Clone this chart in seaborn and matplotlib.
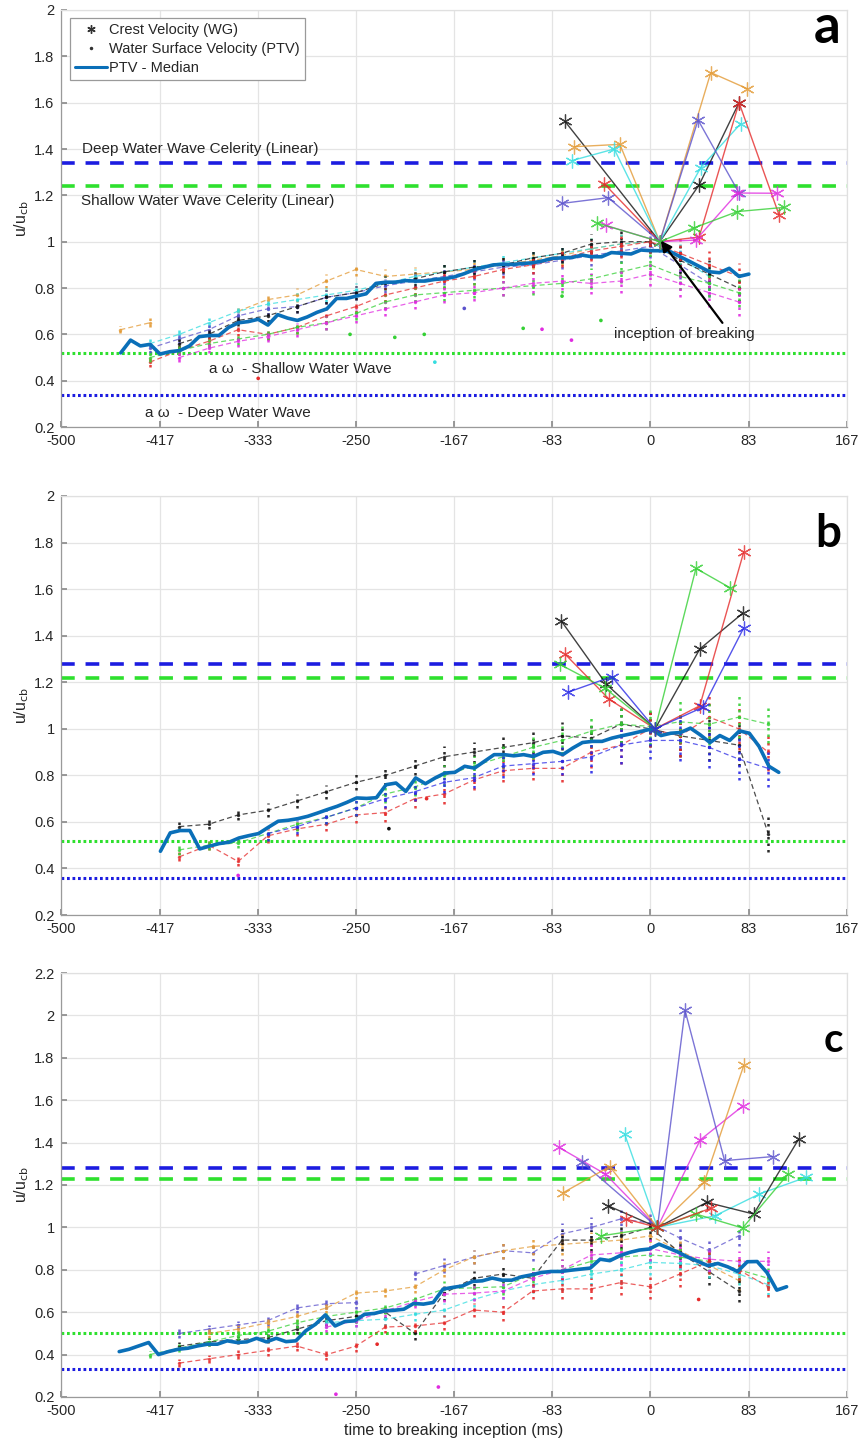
import numpy as np
import pandas as pd
import matplotlib
matplotlib.use("Agg")
import matplotlib.pyplot as plt
from matplotlib.lines import Line2D
import seaborn as sns

FRAME = 1000 / 120  # ms between camera frames

# ── PTV median, one value per frame ──────────────────────────────────────────
med_a_start = -449.7
med_a = [0.52, 0.575, 0.55, 0.557, 0.515, 0.525, 0.53, 0.55, 0.59, 0.595,
         0.595, 0.63, 0.65, 0.655, 0.665, 0.64, 0.685, 0.67, 0.66, 0.675,
         0.695, 0.71, 0.755, 0.755, 0.765, 0.775, 0.82, 0.825, 0.825, 0.832,
         0.83, 0.83, 0.837, 0.84, 0.848, 0.862, 0.879, 0.89, 0.90, 0.902,
         0.902, 0.906, 0.909, 0.917, 0.928, 0.93, 0.932, 0.942, 0.935, 0.935,
         0.953, 0.95, 0.947, 0.964, 0.961, 0.961, 0.957, 0.935, 0.914, 0.892,
         0.87, 0.866, 0.885, 0.85, 0.86]
med_b_start = -416.0
med_b = [0.474, 0.553, 0.563, 0.563, 0.484, 0.496, 0.507, 0.513, 0.531, 0.541,
         0.55, 0.577, 0.603, 0.607, 0.614, 0.624, 0.638, 0.653, 0.667, 0.684,
         0.703, 0.701, 0.704, 0.76, 0.767, 0.731, 0.789, 0.764, 0.789, 0.81,
         0.813, 0.839, 0.831, 0.86, 0.889, 0.889, 0.884, 0.889, 0.881, 0.899,
         0.903, 0.889, 0.917, 0.941, 0.946, 0.946, 0.96, 0.97, 0.979, 0.989,
         0.999, 0.971, 0.981, 0.984, 1.003, 0.974, 0.941, 0.971, 0.95, 0.991,
         0.981, 0.924, 0.839, 0.813]
med_c_start = -451.0
med_c = [0.414, 0.425, 0.441, 0.457, 0.40, 0.414, 0.425, 0.43, 0.441, 0.449,
         0.449, 0.465, 0.457, 0.46, 0.477, 0.46, 0.477, 0.461, 0.465, 0.512,
         0.543, 0.587, 0.535, 0.556, 0.559, 0.59, 0.594, 0.606, 0.609, 0.614,
         0.641, 0.638, 0.646, 0.709, 0.717, 0.724, 0.745, 0.748, 0.761, 0.751,
         0.751, 0.767, 0.776, 0.787, 0.792, 0.792, 0.798, 0.803, 0.808, 0.85,
         0.843, 0.866, 0.882, 0.893, 0.898, 0.921, 0.902, 0.882, 0.858, 0.839,
         0.819, 0.83, 0.814, 0.792, 0.838, 0.839, 0.787, 0.704, 0.72]

# ── per-trial PTV (water surface velocity), every 25 ms ─────────────────────
nan = np.nan
grid_a = [-450, -425, -400, -375, -350, -325, -300, -275, -250, -225, -200,
          -175, -150, -125, -100, -75, -50, -25, 0, 25, 50, 75]
trials_a = {
    "orange":  [0.62, 0.65, nan, nan, 0.70, 0.75, 0.77, 0.83, 0.88, 0.85, 0.86,
                0.87, 0.88, 0.90, 0.92, 0.94, 0.97, 0.99, 1.00, nan, nan, nan],
    "cyan":    [nan, 0.56, 0.60, 0.65, 0.70, 0.73, 0.75, 0.77, 0.79, 0.82, 0.85,
                0.87, 0.89, 0.91, 0.93, 0.95, 0.97, 0.99, 1.00, 0.93, 0.85, nan],
    "slate":   [nan, 0.54, 0.58, 0.62, 0.68, 0.71, 0.72, 0.76, 0.78, 0.81, 0.83,
                0.85, 0.87, 0.89, 0.90, 0.92, 0.94, 0.96, 0.98, 0.90, 0.82, nan],
    "black":   [nan, nan, 0.56, 0.60, 0.66, 0.68, 0.72, 0.76, 0.78, 0.82, 0.84,
                0.87, 0.89, 0.90, 0.93, 0.95, 0.99, 1.00, 1.00, 0.92, 0.86, 0.80],
    "red":     [nan, 0.48, 0.53, 0.57, 0.62, 0.60, 0.63, 0.68, 0.72, 0.77, 0.80,
                0.83, 0.85, 0.88, 0.90, 0.93, 0.96, 0.98, 1.00, 0.95, 0.90, 0.85],
    "green":   [nan, 0.50, 0.53, 0.56, 0.58, 0.60, 0.63, 0.65, 0.69, 0.74, 0.77,
                0.78, 0.79, 0.80, 0.81, 0.82, 0.84, 0.87, 0.90, 0.85, 0.82, 0.78],
    "magenta": [nan, nan, 0.50, 0.54, 0.57, 0.59, 0.62, 0.65, 0.68, 0.71, 0.74,
                0.77, 0.78, 0.80, 0.82, 0.83, 0.82, 0.83, 0.86, 0.82, 0.78, 0.74],
}
spread_a = [0.015, 0.02, 0.02, 0.02, 0.025, 0.025, 0.03, 0.03, 0.03, 0.03, 0.03,
            0.035, 0.035, 0.035, 0.04, 0.04, 0.045, 0.05, 0.05, 0.06, 0.06, 0.06]

grid_b = [-425, -400, -375, -350, -325, -300, -275, -250, -225, -200, -175,
          -150, -125, -100, -75, -50, -25, 0, 25, 50, 75, 100]
trials_b = {
    "black": [nan, 0.58, 0.59, 0.63, 0.65, 0.69, 0.73, 0.77, 0.80, 0.84, 0.88,
              0.90, 0.92, 0.94, 0.97, 0.96, 1.02, 1.00, 0.97, 0.95, 0.93, 0.55],
    "red":   [nan, 0.45, 0.50, 0.43, 0.54, 0.57, 0.59, 0.63, 0.64, 0.70, 0.72,
              0.78, 0.82, 0.83, 0.83, 0.90, 0.93, 1.00, 0.97, 1.05, 1.00, 0.90],
    "green": [nan, 0.48, 0.50, 0.51, 0.55, 0.59, 0.62, 0.66, 0.72, 0.75, 0.80,
              0.84, 0.88, 0.92, 0.95, 0.99, 1.02, 1.01, 1.03, 1.02, 1.05, 1.02],
    "blue":  [nan, nan, nan, nan, 0.55, 0.58, 0.62, 0.66, 0.70, 0.73, 0.77,
              0.79, 0.84, 0.85, 0.86, 0.88, 0.93, 0.95, 0.95, 0.92, 0.87, 0.83],
}
spread_b = [0.02, 0.02, 0.02, 0.02, 0.03, 0.03, 0.03, 0.035, 0.04, 0.04, 0.045,
            0.045, 0.05, 0.05, 0.06, 0.07, 0.08, 0.08, 0.09, 0.09, 0.09, 0.08]

grid_c = [-450, -425, -400, -375, -350, -325, -300, -275, -250, -225, -200,
          -175, -150, -125, -100, -75, -50, -25, 0, 25, 50, 75, 100, 125]
trials_c = {
    "slate":   [nan, nan, 0.50, 0.52, 0.54, 0.56, 0.62, 0.64, 0.645, nan, 0.78,
                0.82, 0.86, 0.89, 0.88, 0.97, 1.00, 1.04, 1.02, 0.95, 0.89, 0.96, nan, nan],
    "orange":  [nan, nan, nan, 0.50, 0.52, 0.55, 0.58, 0.62, 0.69, 0.70, 0.72,
                0.80, 0.86, 0.89, 0.91, 0.92, 0.93, 0.94, 0.96, 0.89, 0.82, 0.75, nan, nan],
    "black":   [nan, nan, 0.44, 0.46, 0.47, 0.48, 0.52, 0.56, 0.58, 0.60, 0.50,
                0.69, 0.76, 0.78, 0.76, 0.94, 0.94, 0.96, 1.00, 0.88, 0.79, 0.70, nan, nan],
    "green":   [nan, 0.40, 0.43, 0.46, 0.49, 0.51, 0.55, 0.58, 0.60, 0.62, 0.66,
                0.71, 0.715, 0.72, 0.78, 0.80, 0.84, 0.86, 0.87, 0.86, 0.84, 0.80, 0.76, nan],
    "cyan":    [nan, nan, nan, nan, nan, nan, nan, 0.55, 0.56, 0.567, 0.59,
                0.61, 0.66, 0.70, 0.73, 0.75, 0.78, 0.80, 0.835, 0.83, 0.82, 0.78, 0.73, nan],
    "magenta": [nan, nan, nan, nan, nan, nan, nan, 0.53, 0.56, 0.606, 0.65,
                0.685, 0.69, 0.70, 0.76, 0.80, 0.87, 0.88, 0.90, 0.87, 0.85, 0.84, 0.84, nan],
    "red":     [nan, nan, 0.36, 0.38, 0.40, 0.42, 0.44, 0.40, 0.44, 0.53, 0.535,
                0.55, 0.61, 0.60, 0.70, 0.71, 0.71, 0.74, 0.72, 0.78, 0.84, 0.80, 0.72, nan],
}
spread_c = [0.015, 0.015, 0.02, 0.02, 0.02, 0.025, 0.025, 0.025, 0.03, 0.03, 0.03,
            0.035, 0.035, 0.04, 0.04, 0.05, 0.05, 0.06, 0.06, 0.06, 0.06, 0.05, 0.05, 0.04]

# stray PTV points
stray_a = pd.DataFrame({
    "t": [-333, -255, -217, -192, -183, -158, -108, -92, -75, -67, -42],
    "y": [0.41, 0.60, 0.587, 0.60, 0.48, 0.712, 0.626, 0.622, 0.765, 0.575, 0.66],
    "trial": ["red", "green", "green", "green", "cyan", "slate", "green",
              "magenta", "green", "magenta", "green"]})
stray_b = pd.DataFrame({
    "t": [-350, -222, -190],
    "y": [0.37, 0.571, 0.70],
    "trial": ["magenta", "black", "red"]})
stray_c = pd.DataFrame({
    "t": [-267, -180, -232, 41],
    "y": [0.213, 0.247, 0.449, 0.66],
    "trial": ["magenta", "magenta", "red", "red"]})

# ── crest velocity from wave gauges (WG) ─────────────────────────────────────
crest_a = {
    "black":   ([-72.6, 8, 41.4, 75.3], [1.52, 1.0, 1.245, 1.60]),
    "orange":  ([-64.7, -25.9, 8, 51.3, 82.4], [1.41, 1.42, 1.0, 1.73, 1.66]),
    "cyan":    ([-66.7, -30.7, 8, 42.8, 76.8], [1.35, 1.40, 1.0, 1.32, 1.51]),
    "red":     ([-39.2, 8, 41.4, 75.3, 109.3], [1.25, 1.0, 1.02, 1.60, 1.115]),
    "slate":   ([-75.4, -35.8, 8, 40.5, 75.3], [1.165, 1.19, 1.0, 1.525, 1.21]),
    "magenta": ([-37.8, 8, 38.6, 73.9, 107.3], [1.07, 1.0, 1.007, 1.21, 1.209]),
    "green":   ([-44.9, 8, 37.2, 73.9, 113.5], [1.08, 1.0, 1.06, 1.13, 1.148]),
}
crest_b = {
    "black": ([-75.6, -37.3, 4, 42, 78.3], [1.463, 1.191, 1.0, 1.343, 1.496]),
    "red":   ([-72.3, -35, 4, 42, 79.3], [1.32, 1.127, 1.0, 1.099, 1.76]),
    "green": ([-77, -38.3, 4, 38.7, 67.6], [1.277, 1.174, 1.0, 1.689, 1.606]),
    "blue":  ([-70, -32.7, 4, 44.8, 79.3], [1.157, 1.224, 1.0, 1.093, 1.434]),
}
crest_c = {
    "magenta": ([-77.9, -38.3, 6, 42.4, 78.3], [1.378, 1.252, 1.0, 1.413, 1.572]),
    "slate":   ([-57.9, 6, 29.4, 63, 104], [1.307, 1.0, 2.024, 1.315, 1.334]),
    "orange":  ([-74.6, -34.5, 6, 45.7, 79.3], [1.162, 1.287, 1.0, 1.213, 1.764]),
    "cyan":    ([-21.9, 6, 55, 92.3, 132], [1.441, 1.0, 1.055, 1.157, 1.236]),
    "black":   ([-35.9, 6, 48, 87.7, 126], [1.102, 1.0, 1.118, 1.063, 1.417]),
    "green":   ([-42, 6, 38.7, 78.3, 117], [0.96, 1.0, 1.063, 0.997, 1.252]),
    "red":     ([-20.5, 6, 51.3], [1.039, 1.0, 1.09]),
}

# ── reference levels (panels a, b, c) ────────────────────────────────────────
deep_celerity = [1.34, 1.28, 1.28]
shallow_celerity = [1.24, 1.22, 1.23]
aw_shallow = [0.52, 0.52, 0.50]
aw_deep = [0.34, 0.36, 0.33]

panel_letters = ["a", "b", "c"]
y_limits = [(0.2, 2.0), (0.2, 2.0), (0.2, 2.2)]
x_ticks = [-500, -416.67, -333.33, -250, -166.67, -83.33, 0, 83.33, 166.67]
x_ticklabels = ["-500", "-417", "-333", "-250", "-167", "-83", "0", "83", "167"]

COLORS = {
    "black": "#111111", "red": "#e52a2a", "green": "#35d035", "blue": "#2a2ae6",
    "slate": "#5b52cc", "cyan": "#35dde0", "magenta": "#e02ce0", "orange": "#e39a35",
}
MEDIAN_BLUE = "#0a6fb8"

sns.set_theme(style="whitegrid")
plt.rcParams["font.family"] = ["Liberation Sans", "DejaVu Sans"]

fig = plt.figure(figsize=(8.6, 14.49), dpi=100)
rects = [[0.0715, 0.7053, 0.913, 0.2878],
         [0.0715, 0.3685, 0.913, 0.2892],
         [0.0715, 0.0359, 0.913, 0.2926]]

medians = [(med_a_start, med_a), (med_b_start, med_b), (med_c_start, med_c)]
ptv = [(grid_a, trials_a, spread_a), (grid_b, trials_b, spread_b),
       (grid_c, trials_c, spread_c)]
strays = [stray_a, stray_b, stray_c]
crests = [crest_a, crest_b, crest_c]
letter_pos = [(0.992, 0.921, 38), (0.993, 0.879, 33), (0.996, 0.814, 29)]

for i, rect in enumerate(rects):
    ax = fig.add_axes(rect)
    ax.set_facecolor("white")

    # reference lines
    ax.axhline(deep_celerity[i], color="#1c1ce0", lw=2.6, ls=(0, (3.8, 3.0)), zorder=2)
    ax.axhline(shallow_celerity[i], color="#2ee02e", lw=2.6, ls=(0, (3.8, 3.0)), zorder=2)
    ax.axhline(aw_shallow[i], color="#2ee02e", lw=2.2, ls=(0, (0.9, 0.9)), zorder=2)
    ax.axhline(aw_deep[i], color="#1c1ce0", lw=2.2, ls=(0, (0.9, 0.9)), zorder=2)

    # PTV per trial: dashed trend + column of dots
    grid, trials, spread = ptv[i]
    g = np.array(grid, dtype=float)
    s = np.array(spread)
    for name, vals in trials.items():
        v = np.array(vals, dtype=float)
        ok = ~np.isnan(v)
        ax.vlines(g[ok], v[ok] - s[ok], v[ok] + s[ok], colors=COLORS[name],
                  linestyles=(0, (1.0, 1.6)), lw=1.8, alpha=0.9, zorder=3)
        ax.plot(g, v, color=COLORS[name], lw=0.9, ls=(0, (4, 2.5)), alpha=0.75,
                marker=".", ms=3, zorder=3)
    sns.scatterplot(data=strays[i], x="t", y="y", hue="trial", palette=COLORS,
                    s=7, linewidth=0, legend=False, ax=ax, zorder=3)

    # median line
    start, med = medians[i]
    t_med = start + FRAME * np.arange(len(med))
    sns.lineplot(x=t_med, y=med, ax=ax, color=MEDIAN_BLUE, lw=2.6,
                 estimator=None, sort=False, zorder=4)

    # crest velocities
    for name, (tc, yc) in crests[i].items():
        ax.plot(tc, yc, color=COLORS[name], lw=1.0, alpha=0.8, zorder=5,
                marker=(6, 2, 0), ms=10, mew=0.9)

    ax.set_xlim(-500, 166.67)
    ax.set_ylim(*y_limits[i])
    ax.set_xticks(x_ticks)
    ax.set_xticklabels(x_ticklabels)
    yt = np.arange(y_limits[i][0], y_limits[i][1] + 0.01, 0.2)
    ax.set_yticks(yt)
    ax.set_yticklabels([f"{v:g}" for v in np.round(yt, 1)])
    ax.grid(True, color="#e4e4e4", lw=0.9)
    ax.tick_params(direction="in", length=4, color="#8c8c8c", labelsize=10.5,
                   labelcolor="#262626", bottom=True, left=True, pad=5)
    for side, sp in ax.spines.items():
        sp.set_visible(True)
        sp.set_linewidth(0.9)
        sp.set_color("#9a9a9a" if side in ("left", "bottom") else "#e0e0e0")
    ax.set_xlabel("")
    ax.set_ylabel("u/u$_{\\rm cb}$", fontsize=11.5, color="#262626", labelpad=2)

    lx, ly, lsz = letter_pos[i]
    ax.text(lx, ly, panel_letters[i], transform=ax.transAxes, ha="right",
            va="baseline", fontsize=lsz, fontweight="bold", family="Lato",
            color="black", zorder=6)

    if i == 0:
        ax.text(-482.4, 1.383, "Deep Water Wave Celerity (Linear)", fontsize=11,
                color="#262626", zorder=6)
        ax.text(-483.3, 1.158, "Shallow Water Wave Celerity (Linear)", fontsize=11,
                color="#262626", zorder=6)
        ax.text(-375, 0.434, "a \u03c9  - Shallow Water Wave", fontsize=11,
                color="#262626", zorder=6)
        ax.text(-428.7, 0.244, "a \u03c9  - Deep Water Wave", fontsize=11,
                color="#262626", zorder=6)
        ax.text(-30.7, 0.583, "inception of breaking", fontsize=11,
                color="#262626", zorder=6)
        ax.annotate("", xy=(7.5, 1.014), xytext=(62.6, 0.64),
                    arrowprops=dict(arrowstyle="-|>", color="black", lw=1.6,
                                    mutation_scale=16), zorder=6)
        handles = [
            Line2D([], [], ls="none", marker=(6, 2, 0), ms=6, mew=1.0,
                   color="#333333"),
            Line2D([], [], ls="none", marker=".", ms=3, color="#333333"),
            Line2D([], [], color=MEDIAN_BLUE, lw=2.2),
        ]
        leg = ax.legend(handles, ["Crest Velocity (WG)",
                                  "Water Surface Velocity (PTV)", "PTV - Median"],
                        loc="upper left", bbox_to_anchor=(0.011, 0.981),
                        borderaxespad=0, fontsize=10.5, frameon=True,
                        fancybox=False, edgecolor="#9a9a9a", framealpha=1,
                        handlelength=2.2, handletextpad=0.1, labelspacing=0.35,
                        borderpad=0.35)
        leg.get_frame().set_linewidth(0.9)
        leg.set_zorder(7)

    if i == 2:
        ax.set_xlabel("time to breaking inception (ms)", fontsize=11.5,
                      color="#262626", labelpad=4)

fig.savefig("out.png", dpi=100)
